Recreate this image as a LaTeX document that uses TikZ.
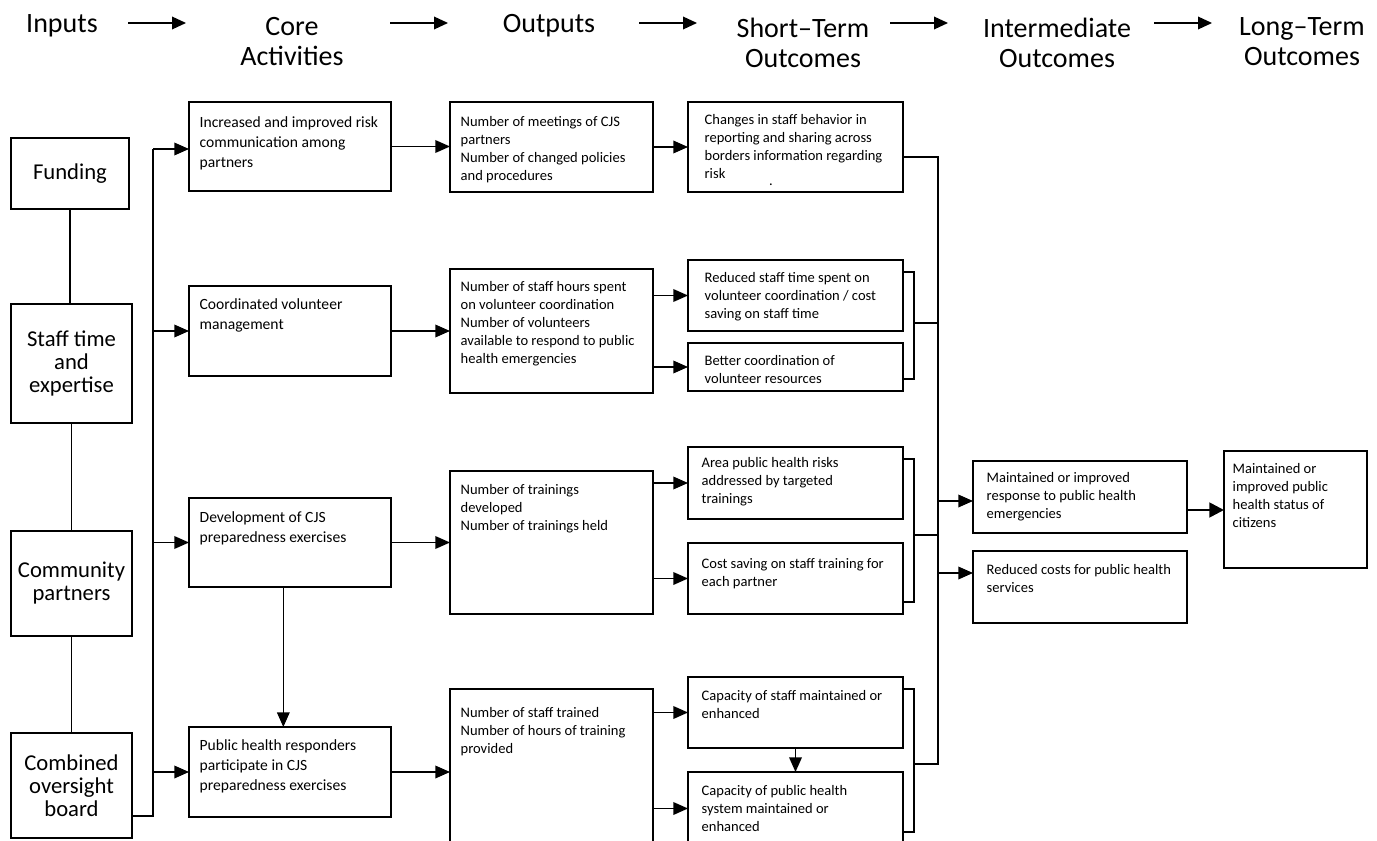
\documentclass[tikz,border=0pt]{standalone}
\usepackage{fontspec}
\setmainfont{Carlito}
\usetikzlibrary{arrows.meta,fit}

\tikzset{every picture/.style={line width=1pt},
  box/.style={draw, inner sep=0pt, outer sep=0pt},
  inbox/.style={box, align=center, font=\fontsize{17}{17.25}\selectfont},
  txt/.style={anchor=north west, inner sep=0.75pt, align=left, font=\fontsize{10.9}{13.5}\selectfont},
  acttxt/.style={txt, font=\fontsize{11.7}{15}\selectfont},
  head/.style={anchor=north, inner sep=0pt, align=center, font=\fontsize{21}{22.5}\selectfont},
  arr/.style={-{Triangle[length=11pt,width=9.5pt]}},
  harr/.style={-{Triangle[length=10.5pt,width=9.5pt]}},
  thickarr/.style={line width=2pt, -{Triangle[length=11pt,width=11pt]}}
}

\begin{document}
\begin{tikzpicture}[x=0.75pt,y=0.75pt,yscale=-1,xscale=1]
	\useasboundingbox (0,0) rectangle (1377,841);

	%Headers
	\node[head] (hin) at (62,14) {Inputs};
	\node[head] (hcore) at (292,17) {Core\\Activities};
	\node[head] (hout) at (549,14) {Outputs};
	\node[head] (hst) at (803,17) {Short–Term\\Outcomes};
	\node[head] (hint) at (1057,17) {Intermediate\\Outcomes};
	\node[head] (hlt) at (1302,17) {Long–Term\\Outcomes};
	\foreach \hx in {128,390,639,890,1154}
		\draw[harr] (\hx,23) -- ++(58,0);

	%Shape: Rectangle -- inputs
	\node[inbox, minimum width=88.5pt, minimum height=53.25pt] (fund) at (70,173.5) {Funding};
	\node[inbox, minimum width=90.75pt, minimum height=89.25pt] (staff) at (71.5,363.5) {Staff time\\and\\expertise};
	\node[inbox, minimum width=90.75pt, minimum height=78.75pt] (comm) at (71.5,583.5) {Community\\partners};
	\node[inbox, minimum width=90.75pt, minimum height=78.75pt] (comb) at (71.5,785.5) {Combined\\oversight\\board};

	%Shape: Rectangle -- core activities
	\node[box, fit={(189,102) (391,191)}] (a1) {};
	\node[box, fit={(189,286) (391,376)}] (a2) {};
	\node[box, fit={(189,498) (391,587)}] (a3) {};
	\node[box, fit={(189,727) (391,817)}] (a4) {};
	\node[acttxt] (a1t) at (198,115) {Increased and improved risk\\communication among\\partners};
	\node[acttxt] (a2t) at (198,297) {Coordinated volunteer\\management};
	\node[acttxt] (a3t) at (198,510) {Development of CJS\\preparedness exercises};
	\node[acttxt] (a4t) at (198,738) {Public health responders\\participate in CJS\\preparedness exercises};

	%Shape: Rectangle -- outputs
	\node[box, fit={(450,102) (653,192)}] (o1) {};
	\node[box, fit={(450,269) (653,393)}] (o2) {};
	\node[box, fit={(450,471) (653,614)}] (o3) {};
	\node[box, fit={(450,689) (653,845)}] (o4) {};
	\node[txt] (o1t) at (459,115) {Number of meetings of CJS\\partners\\Number of changed policies\\and procedures};
	\node[txt] (o2t) at (459,280) {Number of staff hours spent\\on volunteer coordination\\Number of volunteers\\available to respond to public\\health emergencies};
	\node[txt] (o3t) at (459,483) {Number of trainings\\developed\\Number of trainings held};
	\node[txt] (o4t) at (459,706) {Number of staff trained\\Number of hours of training\\provided};

	%Shape: Rectangle -- short-term outcomes
	\node[box, fit={(688,102) (903,192)}] (s1) {};
	\node[box, fit={(688,260) (903,331)}] (s2) {};
	\node[box, fit={(688,343) (903,391)}] (s3) {};
	\node[box, fit={(688,447) (903,519)}] (s4) {};
	\node[box, fit={(688,543) (903,614)}] (s5) {};
	\node[box, fit={(688,677) (903,748)}] (s6) {};
	\node[box, fit={(688,772) (903,845)}] (s7) {};
	\node[txt] (s1t) at (703,113) {Changes in staff behavior in\\reporting and sharing across\\borders information regarding\\risk};
	\node[txt, anchor=center] (s1dot) at (771,185) {.};
	\node[txt] (s2t) at (703,271) {Reduced staff time spent on\\volunteer coordination / cost\\saving on staff time};
	\node[txt] (s3t) at (703,354) {Better coordination of\\volunteer resources};
	\node[txt] (s4t) at (700,456) {Area public health risks\\addressed by targeted\\trainings};
	\node[txt] (s5t) at (700,557) {Cost saving on staff training for\\each partner};
	\node[txt] (s6t) at (700,689) {Capacity of staff maintained or\\enhanced};
	\node[txt] (s7t) at (700,784) {Capacity of public health\\system maintained or\\enhanced};

	%Shape: Rectangle -- intermediate and long-term outcomes
	\node[box, fit={(973,461) (1187,533)}] (i1) {};
	\node[box, fit={(973,551) (1187,623)}] (i2) {};
	\node[box, fit={(1224,451) (1367,568)}] (l1) {};
	\node[txt] (i1t) at (985,471) {Maintained or improved\\response to public health\\emergencies};
	\node[txt] (i2t) at (985,563) {Reduced costs for public health\\services};
	\node[txt] (l1t) at (1231,462) {Maintained or\\improved public\\health status of\\citizens};

	%Straight Lines -- inputs chain and bus
	\draw (fund.south) -- (fund.south |- staff.north);
	\draw (staff.south) -- (staff.south |- comm.north);
	\draw (comm.south) -- (comm.south |- comb.north);
	\coordinate (busl) at (153,149);
	\coordinate (buslb) at (153,816);
	\draw (comb.east |- buslb) -- (buslb) -- (busl);
	\draw[arr] (busl) -- (busl -| a1.west);
	\draw[arr] (busl |- a2.west) -- (a2.west);
	\draw[arr] (busl |- a3.west) -- (a3.west);
	\draw[arr] (busl |- a4.west) -- (a4.west);

	%Straight Lines -- activities to outputs
	\draw[arr] (a1.east) -- (a1.east -| o1.west);
	\draw[arr] (a2.east) -- (a2.east -| o2.west);
	\draw[arr] (a3.east) -- (a3.east -| o3.west);
	\draw[arr] (a4.east) -- (a4.east -| o4.west);
	\draw[arr] ([xshift=-5pt]a3.south) -- ([xshift=-5pt]a4.north);

	%Straight Lines -- outputs to short-term outcomes
	\draw[arr] (o1.east) -- (o1.east -| s1.west);
	\draw[arr] (o2.east |- s2.west) -- (s2.west);
	\draw[arr] (o2.east |- s3.west) -- (s3.west);
	\draw[arr] (o3.east |- s4.west) -- (s4.west);
	\draw[arr] (o3.east |- s5.west) -- (s5.west);
	\draw[arr] (o4.east |- s6.west) -- (s6.west);
	\draw[arr] (o4.east |- s7.west) -- (s7.west);
	\draw[arr] (s6.south) -- (s7.north);

	%Straight Lines -- brackets and right bus
	\draw (s2.east |- 914,272) -- (914,272) -- (914,379) -- (s3.east |- 914,379);
	\draw (s4.east |- 914,459) -- (914,459) -- (914,602) -- (s5.east |- 914,602);
	\draw (s6.east |- 914,689) -- (914,689) -- (914,832) -- (s7.east |- 914,832);
	\coordinate (busr) at (938,157);
	\coordinate (busrb) at (938,764);
	\draw (s1.east |- busr) -- (busr) -- (busrb) -- (914,764);
	\draw (914,323) -- (busr |- 914,323);
	\draw (914,535) -- (busr |- 914,535);
	\draw[arr] (busr |- 938,501) -- (i1.west |- 938,501);
	\draw[arr] (busr |- 938,573) -- (i2.west |- 938,573);
	\draw[thickarr] (i1.east |- 1187,510) -- (l1.west |- 1187,510);
\end{tikzpicture}
\end{document}
